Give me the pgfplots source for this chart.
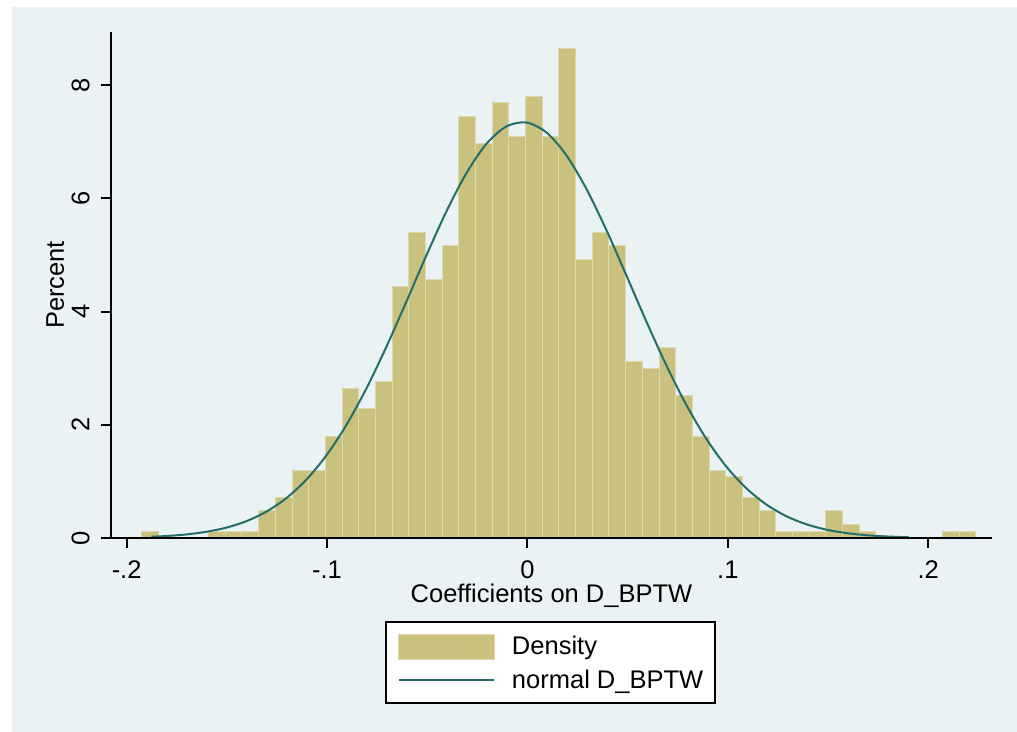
\documentclass[border=0pt]{standalone}
\usepackage{pgfplots}
\pgfplotsset{compat=1.18}
\usepackage{fontspec}
\setmainfont{Liberation Sans}
\definecolor{bgc}{HTML}{EAF2F3}
\definecolor{gridc}{HTML}{E2ECEF}
\definecolor{barc}{HTML}{C9C17D}
\definecolor{baredge}{HTML}{DDD9AE}
\definecolor{curvec}{HTML}{246E6A}
\newcommand\fs{\fontsize{12.75pt}{15pt}\selectfont}
\pgfplotsset{
  layers/mylayers/.define layer set={axis background,axis grid,main,axis ticks,axis lines,axis tick labels,axis descriptions,axis foreground}{/pgfplots/layers/standard},
}
\begin{document}
\begin{tikzpicture}
\fill[white] (0,0) rectangle (508.5pt,-366pt);
\fill[bgc] (6pt,-3.5pt) rectangle (508.5pt,-366pt);
\begin{axis}[
  set layers=mylayers,
  scale only axis, width=440.5pt, height=253pt,
  at={(55.5pt,-269pt)}, anchor=south west,
  xmin=-0.2078, xmax=0.2318, ymin=0, ymax=8.94,
  axis x line*=bottom, axis y line*=left,
  axis line style={line width=1pt, black},
  axis background/.style={fill=white},
  tick align=outside, major tick length=5pt,
  tick style={line width=1pt, black},
  xtick={-0.2,-0.1,0,0.1,0.2}, xticklabels={-.2,-.1,0,.1,.2},
  ytick={0,2,4,6,8}, yticklabels={0,2,4,6,8},
  ymajorgrids, grid style={gridc, line width=0.75pt},
  tick label style={font=\fs},
  xticklabel style={anchor=base}, xticklabel shift=15.15pt,
  yticklabel style={rotate=90, anchor=base}, yticklabel shift=5.85pt,
  label style={font=\fs},
  xlabel={Coefficients on D\_BPTW},
  xlabel style={at={(axis description cs:0.5,-0.1271)}, anchor=base},
  ylabel={Percent},
  ylabel style={at={(axis description cs:-0.0534,0.5)}, anchor=base},
  legend style={
    at={(axis description cs:0.3110,-0.1634)}, anchor=north west,
    draw=black, line width=1pt, fill=white, font=\fs,
    inner xsep=6pt, inner ysep=6pt, row sep=5pt,
    nodes={inner sep=0pt},
    /tikz/every odd column/.append style={column sep=8.5pt},
  },
  legend cell align=left,
]
\addplot[ybar interval, fill=barc, draw=baredge, line width=0.5pt,
  legend image code/.code={\filldraw[fill=barc, draw=baredge, line width=0.5pt] (0pt,-6.25pt) rectangle (47.5pt,6.25pt);}]
coordinates {
(-0.19240,0.120) (-0.18408,0) (-0.17575,0) (-0.16743,0) (-0.15910,0.120)
(-0.15078,0.120) (-0.14246,0.120) (-0.13413,0.481) (-0.12581,0.721) (-0.11748,1.201)
(-0.10916,1.201) (-0.10084,1.802) (-0.09251,2.643) (-0.08419,2.282) (-0.07586,2.763)
(-0.06754,4.445) (-0.05922,5.406) (-0.05089,4.565) (-0.04257,5.166) (-0.03424,7.448)
(-0.02592,6.968) (-0.01760,7.688) (-0.00927,7.088) (-0.00095,7.808) (0.00738,7.088)
(0.01570,8.649) (0.02402,4.925) (0.03235,5.406) (0.04067,5.166) (0.04900,3.123)
(0.05732,3.003) (0.06564,3.364) (0.07397,2.523) (0.08229,1.802) (0.09062,1.201)
(0.09894,1.081) (0.10726,0.721) (0.11559,0.481) (0.12391,0.120) (0.13224,0.120)
(0.14056,0.120) (0.14888,0.481) (0.15721,0.240) (0.16553,0.120) (0.17386,0)
(0.18218,0) (0.19050,0) (0.19883,0) (0.20715,0.120) (0.21548,0.120)
(0.22380,0.120)
};
\addplot[curvec, line width=1pt, smooth, no markers,
  legend image code/.code={\draw[curvec, line width=1pt] (0pt,0pt) -- (47.5pt,0pt);}]
coordinates {
(-0.1877,0.022) (-0.1807,0.034) (-0.1707,0.061) (-0.1607,0.107) (-0.1507,0.179)
(-0.1407,0.291) (-0.1307,0.457) (-0.1207,0.693) (-0.1107,1.016) (-0.1007,1.442)
(-0.0907,1.976) (-0.0807,2.619) (-0.0707,3.354) (-0.0607,4.153) (-0.0507,4.971)
(-0.0407,5.751) (-0.0307,6.432) (-0.0207,6.954) (-0.0107,7.268) (-0.0007,7.342)
(0.0093,7.170) (0.0193,6.768) (0.0293,6.176) (0.0393,5.448) (0.0493,4.645)
(0.0593,3.828) (0.0693,3.050) (0.0793,2.350) (0.0893,1.749) (0.0993,1.258)
(0.1093,0.876) (0.1193,0.589) (0.1293,0.383) (0.1393,0.241) (0.1493,0.146)
(0.1593,0.086) (0.1693,0.049) (0.1793,0.027) (0.1903,0.013)
};
\legend{Density, normal D\_BPTW}
\end{axis}
\end{tikzpicture}
\end{document}
